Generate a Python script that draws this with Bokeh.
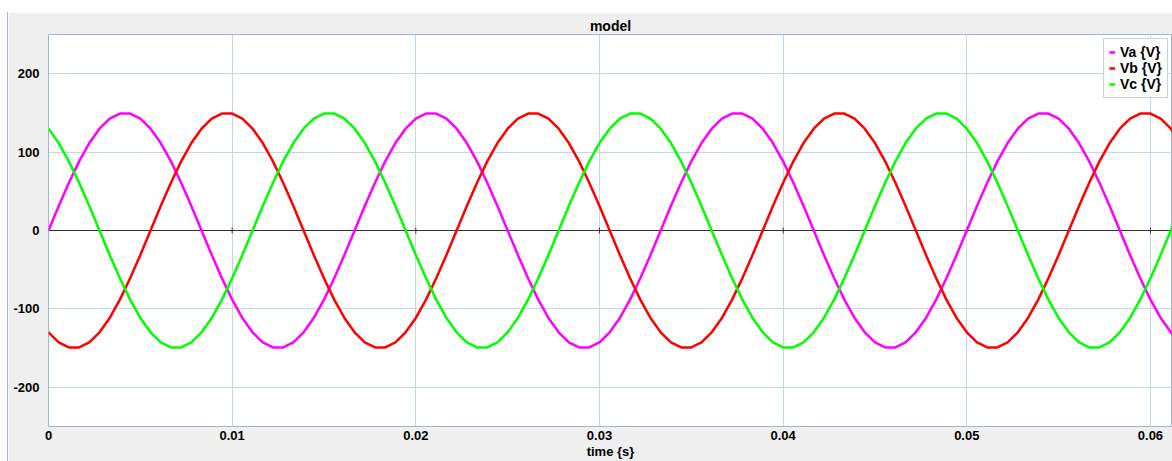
from math import pi
from bokeh.plotting import figure
from bokeh.models import Range1d, FixedTicker, Span, Legend, LegendItem, Spacer
from bokeh.layouts import column, row
from bokeh.embed import file_html
from bokeh.resources import INLINE

# ---- data ----
time_s = [
    0.0, 0.000556, 0.001111, 0.001667, 0.002222, 0.002778, 0.003333, 0.003889, 0.004444, 0.005,
    0.005556, 0.006111, 0.006667, 0.007222, 0.007778, 0.008333, 0.008889, 0.009444, 0.01, 0.010556,
    0.011111, 0.011667, 0.012222, 0.012778, 0.013333, 0.013889, 0.014444, 0.015, 0.015556, 0.016111,
    0.016667, 0.017222, 0.017778, 0.018333, 0.018889, 0.019444, 0.02, 0.020556, 0.021111, 0.021667,
    0.022222, 0.022778, 0.023333, 0.023889, 0.024444, 0.025, 0.025556, 0.026111, 0.026667, 0.027222,
    0.027778, 0.028333, 0.028889, 0.029444, 0.03, 0.030556, 0.031111, 0.031667, 0.032222, 0.032778,
    0.033333, 0.033889, 0.034444, 0.035, 0.035556, 0.036111, 0.036667, 0.037222, 0.037778, 0.038333,
    0.038889, 0.039444, 0.04, 0.040556, 0.041111, 0.041667, 0.042222, 0.042778, 0.043333, 0.043889,
    0.044444, 0.045, 0.045556, 0.046111, 0.046667, 0.047222, 0.047778, 0.048333, 0.048889, 0.049444,
    0.05, 0.050556, 0.051111, 0.051667, 0.052222, 0.052778, 0.053333, 0.053889, 0.054444, 0.055,
    0.055556, 0.056111, 0.056667, 0.057222, 0.057778, 0.058333, 0.058889, 0.059444, 0.06, 0.060556,
    0.061111, 0.061667,
]

va = [
    0, 31.2, 61.0, 88.2, 111.5, 129.9, 142.7, 149.2, 149.2, 142.7,
    129.9, 111.5, 88.2, 61.0, 31.2, 0, -31.2, -61.0, -88.2, -111.5,
    -129.9, -142.7, -149.2, -149.2, -142.7, -129.9, -111.5, -88.2, -61.0, -31.2,
    0, 31.2, 61.0, 88.2, 111.5, 129.9, 142.7, 149.2, 149.2, 142.7,
    129.9, 111.5, 88.2, 61.0, 31.2, 0, -31.2, -61.0, -88.2, -111.5,
    -129.9, -142.7, -149.2, -149.2, -142.7, -129.9, -111.5, -88.2, -61.0, -31.2,
    0, 31.2, 61.0, 88.2, 111.5, 129.9, 142.7, 149.2, 149.2, 142.7,
    129.9, 111.5, 88.2, 61.0, 31.2, 0, -31.2, -61.0, -88.2, -111.5,
    -129.9, -142.7, -149.2, -149.2, -142.7, -129.9, -111.5, -88.2, -61.0, -31.2,
    0, 31.2, 61.0, 88.2, 111.5, 129.9, 142.7, 149.2, 149.2, 142.7,
    129.9, 111.5, 88.2, 61.0, 31.2, 0, -31.2, -61.0, -88.2, -111.5,
    -129.9, -142.7,
]

vb = [
    -129.9, -142.7, -149.2, -149.2, -142.7, -129.9, -111.5, -88.2, -61.0, -31.2,
    0, 31.2, 61.0, 88.2, 111.5, 129.9, 142.7, 149.2, 149.2, 142.7,
    129.9, 111.5, 88.2, 61.0, 31.2, 0, -31.2, -61.0, -88.2, -111.5,
    -129.9, -142.7, -149.2, -149.2, -142.7, -129.9, -111.5, -88.2, -61.0, -31.2,
    0, 31.2, 61.0, 88.2, 111.5, 129.9, 142.7, 149.2, 149.2, 142.7,
    129.9, 111.5, 88.2, 61.0, 31.2, 0, -31.2, -61.0, -88.2, -111.5,
    -129.9, -142.7, -149.2, -149.2, -142.7, -129.9, -111.5, -88.2, -61.0, -31.2,
    0, 31.2, 61.0, 88.2, 111.5, 129.9, 142.7, 149.2, 149.2, 142.7,
    129.9, 111.5, 88.2, 61.0, 31.2, 0, -31.2, -61.0, -88.2, -111.5,
    -129.9, -142.7, -149.2, -149.2, -142.7, -129.9, -111.5, -88.2, -61.0, -31.2,
    0, 31.2, 61.0, 88.2, 111.5, 129.9, 142.7, 149.2, 149.2, 142.7,
    129.9, 111.5,
]

vc = [
    129.9, 111.5, 88.2, 61.0, 31.2, 0, -31.2, -61.0, -88.2, -111.5,
    -129.9, -142.7, -149.2, -149.2, -142.7, -129.9, -111.5, -88.2, -61.0, -31.2,
    0, 31.2, 61.0, 88.2, 111.5, 129.9, 142.7, 149.2, 149.2, 142.7,
    129.9, 111.5, 88.2, 61.0, 31.2, 0, -31.2, -61.0, -88.2, -111.5,
    -129.9, -142.7, -149.2, -149.2, -142.7, -129.9, -111.5, -88.2, -61.0, -31.2,
    0, 31.2, 61.0, 88.2, 111.5, 129.9, 142.7, 149.2, 149.2, 142.7,
    129.9, 111.5, 88.2, 61.0, 31.2, 0, -31.2, -61.0, -88.2, -111.5,
    -129.9, -142.7, -149.2, -149.2, -142.7, -129.9, -111.5, -88.2, -61.0, -31.2,
    0, 31.2, 61.0, 88.2, 111.5, 129.9, 142.7, 149.2, 149.2, 142.7,
    129.9, 111.5, 88.2, 61.0, 31.2, 0, -31.2, -61.0, -88.2, -111.5,
    -129.9, -142.7, -149.2, -149.2, -142.7, -129.9, -111.5, -88.2, -61.0, -31.2,
    0, 31.2,
]

series_labels = ["Va {V}", "Vb {V}", "Vc {V}"]
x_ticks = [0, 0.01, 0.02, 0.03, 0.04, 0.05, 0.06]
x_tick_labels = ["0", "0.01", "0.02", "0.03", "0.04", "0.05", "0.06"]
y_ticks = [-200, -100, 0, 100, 200]
y_tick_labels = ["-200", "-100", "0", "100", "200"]

# ---- figure ----
FONT = "Liberation Sans"
GRID = "#c2d7ef"

p = figure(width=1164, height=449,
           x_range=Range1d(0, 0.0612), y_range=Range1d(-250, 250),
           output_backend="svg", toolbar_location=None,
           min_border_left=40, min_border_right=0,
           min_border_top=22, min_border_bottom=34,
           background_fill_color="white", border_fill_color="#efefef")

p.title.text = "model"
p.title.align = "center"
p.title.text_font = FONT
p.title.text_font_size = "14px"
p.title.text_font_style = "bold"
p.title.text_color = "black"
p.title.standoff = 2

p.outline_line_color = "#a3b5cc"
p.outline_line_width = 1

p.xgrid.ticker = FixedTicker(ticks=x_ticks)
p.ygrid.ticker = FixedTicker(ticks=y_ticks)
p.grid.grid_line_color = GRID
p.grid.grid_line_width = 1

for ax in (p.xaxis[0], p.yaxis[0]):
    ax.axis_line_color = None
    ax.major_tick_in = 0
    ax.major_tick_out = 0
    ax.minor_tick_line_color = None
    ax.major_label_text_font = FONT
    ax.major_label_text_font_size = "13px"
    ax.major_label_text_font_style = "bold"
    ax.major_label_text_color = "black"

p.xaxis.ticker = FixedTicker(ticks=x_ticks)
p.xaxis.major_label_overrides = dict(zip(x_ticks, x_tick_labels))
p.xaxis.major_label_standoff = 4
p.xaxis.axis_label = "time {s}"
p.xaxis.axis_label_text_font = FONT
p.xaxis.axis_label_text_font_size = "13px"
p.xaxis.axis_label_text_font_style = "bold"
p.xaxis.axis_label_text_color = "black"
p.xaxis.axis_label_standoff = 1

p.yaxis.ticker = FixedTicker(ticks=y_ticks)
p.yaxis.major_label_overrides = dict(zip(y_ticks, y_tick_labels))
p.yaxis.major_label_standoff = 9

zero = Span(location=0, dimension="width", line_color="#333333", line_width=1, level="underlay")
p.add_layout(zero)
p.scatter(x=x_ticks[1:], y=[0] * len(x_ticks[1:]), marker="dash", angle=pi / 2,
          size=6, line_color="#333333", line_width=1)

r_a = p.line(time_s, va, line_color="#ff00ff", line_width=2.5)
r_b = p.line(time_s, vb, line_color="#ff0000", line_width=2.5)
r_c = p.line(time_s, vc, line_color="#00ff00", line_width=2.5)

legend = Legend(items=[LegendItem(label=series_labels[0], renderers=[r_a]),
                       LegendItem(label=series_labels[1], renderers=[r_b]),
                       LegendItem(label=series_labels[2], renderers=[r_c])],
                location="top_right", margin=4, padding=5, spacing=0,
                label_height=16, glyph_height=16, glyph_width=6, label_standoff=5,
                border_line_color="#8fa3bf", border_line_width=1,
                background_fill_color="white", background_fill_alpha=1,
                label_text_font=FONT, label_text_font_size="14px",
                label_text_font_style="bold", label_text_color="black")
p.add_layout(legend)

edge = Spacer(width=1, height=449, styles={"background-color": "#a9b9cd"})
layout = column(Spacer(width=1172, height=12),
                row(Spacer(width=7, height=449), edge, p, spacing=0), spacing=0)

open("out.html", "w").write(file_html(layout, INLINE))
